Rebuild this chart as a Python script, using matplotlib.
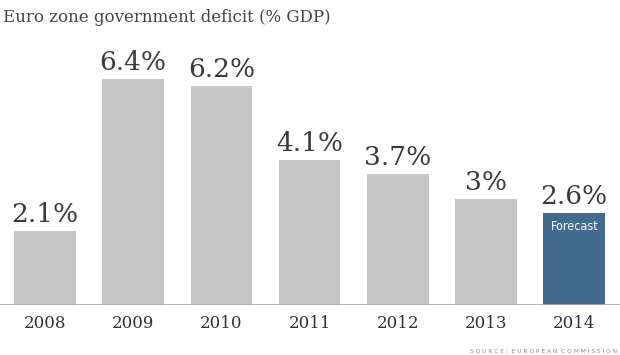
import matplotlib
matplotlib.use("Agg")
import matplotlib.pyplot as plt

years = ["2008", "2009", "2010", "2011", "2012", "2013", "2014"]
values = [2.1, 6.4, 6.2, 4.1, 3.7, 3.0, 2.6]
labels = ["2.1%", "6.4%", "6.2%", "4.1%", "3.7%", "3%", "2.6%"]
forecast = [False, False, False, False, False, False, True]

W, H = 620, 355
fig = plt.figure(figsize=(W / 100, H / 100), dpi=100)
base_px = 305
top_px = 40
ax = fig.add_axes([0, (H - base_px) / H, 1, (base_px - top_px) / H])
ax.set_axis_off()

x = list(range(len(years)))
colors = ["#436a8f" if f else "#c6c6c6" for f in forecast]
ax.bar(x, values, width=0.70, color=colors, zorder=2)
pxu = 35.3
ax.set_ylim(0, (base_px - top_px) / pxu)
ax.set_xlim(-45 / 88.2, (W - 45) / 88.2)
ax.axhline(0, color="#a8a8a8", lw=1.2, zorder=3)

serif = "DejaVu Serif"
for xi, v, lab, f in zip(x, values, labels, forecast):
    ax.annotate(lab, (xi, v), xytext=(0, 3), textcoords="offset points",
                ha="center", va="bottom", fontsize=19, family=serif, color="#3a3a3a")
    if f:
        ax.annotate("Forecast", (xi, v), xytext=(0, -9.5), textcoords="offset points",
                    ha="center", va="center", fontsize=9, family="DejaVu Sans",
                    color="white", stretch="condensed")
for xi, y in zip(x, years):
    ax.annotate(y, (xi, 0), xytext=(0, -13), textcoords="offset points",
                ha="center", va="center", fontsize=12, family=serif, color="#333333")

fig.text(3 / W, 1 - 18 / H, "Euro zone government deficit (% GDP)", ha="left", va="center",
         fontsize=12, family=serif, color="#444444")
fig.text(617 / W, 1 - 351.5 / H, "S O U R C E :  E U R O P E A N  C O M M I S S I O N",
         ha="right", va="center", fontsize=4.2, family="DejaVu Sans", color="#8a8a8a")

fig.savefig("out.png", dpi=100)
